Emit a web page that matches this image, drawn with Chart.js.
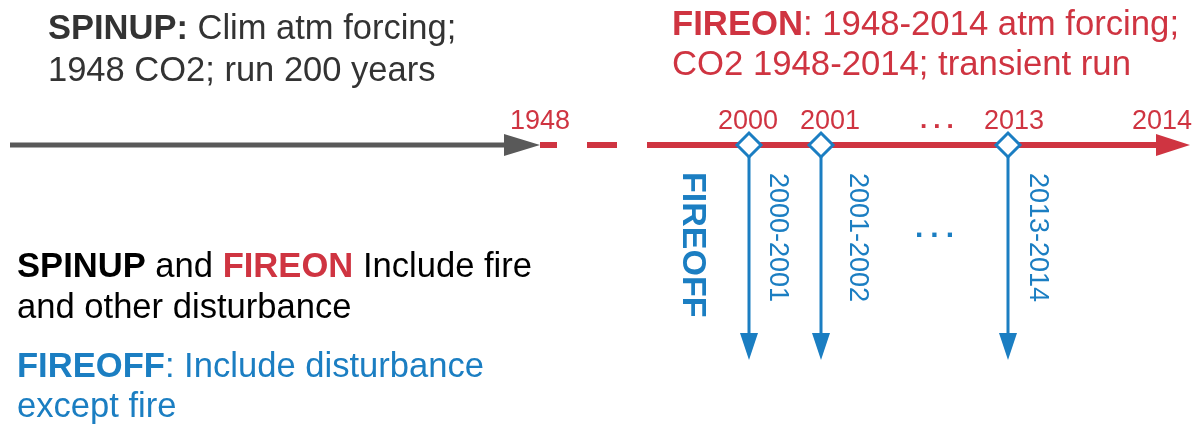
<!DOCTYPE html>
<html lang="en">
<head>
<meta charset="UTF-8">
<title>SPINUP / FIREON / FIREOFF timeline</title>
<script src="https://cdn.jsdelivr.net/npm/chart.js"></script>
<style>
  html, body { margin: 0; padding: 0; background: #fff; }
  #wrap { width: 1200px; height: 425px; position: relative; }
</style>
</head>
<body>
<div id="wrap"><canvas id="grafico"></canvas></div>
<script>
// diagram data, in diagram units (x 0-1200 left to right, y 0-425 top to bottom)
const timelineY = 145;
const spinupSpan = [10, 540];
const gapSpan = [540, 665];
const fireonSpan = [665, 1190];
const yearLabels = ['1948', '2000', '2001', '2013', '2014'];
const yearLabelX = [540, 748, 830, 1014, 1162];
const restartYears = ['2000', '2001', '2013'];
const restartX = [749, 821, 1008];
const fireoffRuns = ['2000-2001', '2001-2002', '2013-2014'];
const fireoffLabelX = [777, 857, 1037];
const fireoffEndY = 360;

const GREY = '#595959';
const RED = '#cf3441';
const BLUE = '#1b7ec2';

// text blocks: each line is a list of [text, bold, colour]
const spinupNote = [
  [['SPINUP:', true, '#333'], [' Clim atm forcing;', false, '#333']],
  [['1948 CO2; run 200 years', false, '#333']]
];
const fireonNote = [
  [['FIREON', true, RED], [': 1948-2014 atm forcing;', false, RED]],
  [['CO2 1948-2014; transient run', false, RED]]
];
const legendNote = [
  [['SPINUP', true, '#000'], [' and ', false, '#000'], ['FIREON', true, RED], [' Include fire', false, '#000']],
  [['and other disturbance', false, '#000']],
  [['FIREOFF', true, BLUE], [': Include disturbance', false, BLUE]],
  [['except fire', false, BLUE]]
];

const FONT = '"Liberation Sans", Arial, sans-serif';

function seg(a, b, y) {
  return [{ x: a, y: y }, { x: b, y: y }];
}

// arrow heads and all labels, placed through the chart scales
const extras = {
  id: 'extras',
  afterDatasetsDraw(chart) {
    const ctx = chart.ctx;
    const sx = v => chart.scales.x.getPixelForValue(v);
    const sy = v => chart.scales.y.getPixelForValue(v);

    function head(x, y, dir, len, half, color) {
      ctx.save();
      ctx.fillStyle = color;
      ctx.beginPath();
      if (dir === 'right') {
        ctx.moveTo(sx(x), sy(y));
        ctx.lineTo(sx(x) - len, sy(y) - half);
        ctx.lineTo(sx(x) - len, sy(y) + half);
      } else {
        ctx.moveTo(sx(x), sy(y));
        ctx.lineTo(sx(x) - half, sy(y) - len);
        ctx.lineTo(sx(x) + half, sy(y) - len);
      }
      ctx.closePath();
      ctx.fill();
      ctx.restore();
    }
    head(spinupSpan[1], timelineY, 'right', 36, 11, GREY);
    head(fireonSpan[1], timelineY, 'right', 34, 11, RED);
    restartX.forEach(x => head(x, fireoffEndY, 'down', 27, 9, BLUE));

    function rich(lines, x, baselines, size) {
      lines.forEach((line, i) => {
        let px = sx(x);
        const py = sy(baselines[i]);
        line.forEach(([t, bold, color]) => {
          ctx.font = (bold ? 'bold ' : '') + size + 'px ' + FONT;
          ctx.fillStyle = color;
          ctx.textAlign = 'left';
          ctx.textBaseline = 'alphabetic';
          ctx.fillText(t, px, py);
          px += ctx.measureText(t).width;
        });
      });
    }
    rich(spinupNote, 48, [39, 81], 34.5);
    rich(fireonNote, 672, [35, 75], 34.7);
    rich(legendNote, 17, [277, 318, 377, 417], 34.6);

    // year ticks above the timeline
    ctx.save();
    ctx.font = '27px ' + FONT;
    ctx.fillStyle = RED;
    ctx.textAlign = 'center';
    ctx.textBaseline = 'alphabetic';
    yearLabels.forEach((t, i) => ctx.fillText(t, sx(yearLabelX[i]), sy(129)));
    ctx.restore();

    // ellipses
    function dots(x, y, size, gap, color) {
      ctx.save();
      ctx.font = 'bold ' + size + 'px ' + FONT;
      ctx.letterSpacing = gap + 'px';
      ctx.fillStyle = color;
      ctx.textAlign = 'left';
      ctx.fillText('...', sx(x), sy(y));
      ctx.restore();
    }
    dots(920, 128, 26, 6, RED);
    dots(915, 237, 30, 7, BLUE);

    // rotated labels
    function vtext(t, x, y, font, color) {
      ctx.save();
      ctx.translate(sx(x), sy(y));
      ctx.rotate(Math.PI / 2);
      ctx.font = font;
      ctx.fillStyle = color;
      ctx.textAlign = 'left';
      ctx.textBaseline = 'middle';
      ctx.fillText(t, 0, 0);
      ctx.restore();
    }
    vtext('FIREOFF', 692, 172, 'bold 34px ' + FONT, BLUE);
    fireoffRuns.forEach((t, i) => vtext(t, fireoffLabelX[i], 173, '27px ' + FONT, BLUE));
  }
};

new Chart(document.getElementById('grafico'), {
  type: 'scatter',
  data: {
    datasets: [
      {
        label: 'restarts',
        data: restartX.map(x => ({ x: x, y: timelineY })),
        pointStyle: 'rectRot',
        pointRadius: 12,
        pointBackgroundColor: '#fff',
        pointBorderColor: BLUE,
        pointBorderWidth: 3,
        showLine: false,
        order: 0
      },
      ...restartX.map((x, i) => ({
        label: fireoffRuns[i],
        data: [{ x: x, y: timelineY + 12 }, { x: x, y: fireoffEndY - 20 }],
        showLine: true,
        borderColor: BLUE,
        borderWidth: 3,
        pointRadius: 0,
        order: 1
      })),
      {
        label: 'FIREON',
        data: seg(fireonSpan[0], fireonSpan[1] - 20, timelineY),
        showLine: true,
        borderColor: RED,
        borderWidth: 6,
        pointRadius: 0,
        order: 2
      },
      {
        label: 'gap',
        data: seg(gapSpan[0], gapSpan[1], timelineY),
        showLine: true,
        borderColor: RED,
        borderWidth: 6,
        borderDash: [30, 30],
        borderDashOffset: 13,
        borderCapStyle: 'butt',
        pointRadius: 0,
        order: 3
      },
      {
        label: 'SPINUP',
        data: seg(spinupSpan[0], spinupSpan[1] - 20, timelineY),
        showLine: true,
        borderColor: GREY,
        borderWidth: 5,
        pointRadius: 0,
        order: 4
      }
    ]
  },
  options: {
    responsive: true,
    maintainAspectRatio: false,
    animation: false,
    layout: { padding: 0, autoPadding: false },
    plugins: { legend: { display: false }, tooltip: { enabled: false } },
    scales: {
      x: { type: 'linear', min: 0, max: 1200, display: false },
      y: { type: 'linear', min: 0, max: 425, reverse: true, display: false }
    }
  },
  plugins: [extras]
});
</script>
</body>
</html>
